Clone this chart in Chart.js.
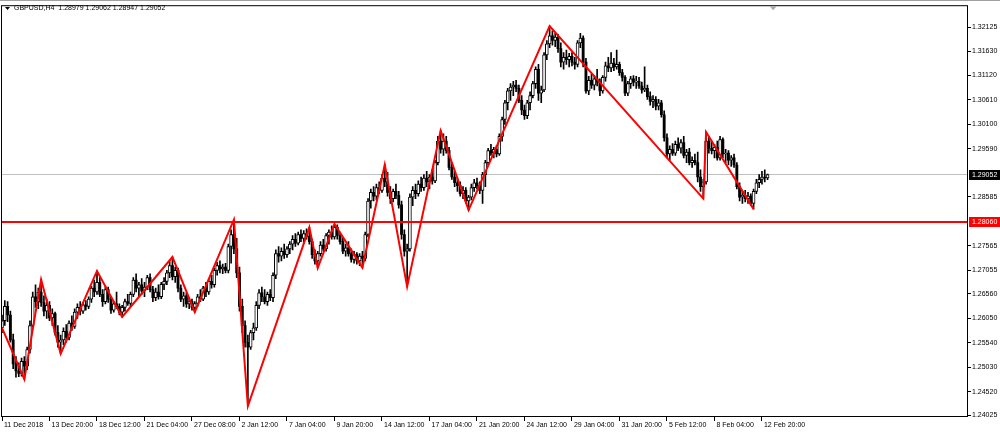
<!DOCTYPE html>
<html><head><meta charset="utf-8">
<script src="https://cdn.jsdelivr.net/npm/chart.js@4"></script>
<style>html,body{margin:0;padding:0;background:#fff;overflow:hidden}#wrap{width:1000px;height:433px;position:relative}</style>
</head><body><div id="wrap"><canvas id="c" width="1000" height="433"></canvas></div>
<script>
const symbolTitle = "GBPUSD,H4  1.28979 1.29062 1.28947 1.29052";
const timeLabelBars = [0,17,34,51,68,85,102,119,136,153,170,187,204,221,238,255,272];
const timeLabels = ["11 Dec 2018","13 Dec 20:00","18 Dec 12:00","21 Dec 04:00","27 Dec 08:00","2 Jan 12:00","7 Jan 04:00","9 Jan 20:00","14 Jan 12:00","17 Jan 04:00","21 Jan 20:00","24 Jan 12:00","29 Jan 04:00","31 Jan 20:00","5 Feb 12:00","8 Feb 04:00","12 Feb 20:00"];
const priceTicks = [1.32125,1.31630,1.31120,1.30610,1.30100,1.29590,1.28585,1.27565,1.27055,1.26560,1.26050,1.25540,1.25030,1.24520,1.24025];
const levelPrice = 1.28060;
const lastPrice = 1.29052;

const openP = [
1.2585,1.2600,1.2630,1.2612,1.2560,1.2510,1.2495,1.2490,1.2515,1.2505,
1.2540,1.2590,1.2650,1.2640,1.2660,1.2638,1.2620,1.2632,1.2606,1.2615,
1.2575,1.2555,1.2560,1.2578,1.2565,1.2595,1.2588,1.2618,1.2628,1.2620,
1.2633,1.2630,1.2645,1.2668,1.2660,1.2680,1.2655,1.2640,1.2665,1.2645,
1.2622,1.2635,1.2630,1.2618,1.2628,1.2640,1.2636,1.2655,1.2685,1.2668,
1.2675,1.2662,1.2670,1.2690,1.2665,1.2648,1.2660,1.2650,1.2676,1.2682,
1.2700,1.2715,1.2692,1.2705,1.2668,1.2645,1.2652,1.2635,1.2640,1.2628,
1.2636,1.2650,1.2645,1.2668,1.2660,1.2682,1.2675,1.2705,1.2715,1.2708,
1.2712,1.2705,1.2755,1.2780,1.2750,1.2700,1.2630,1.2590,1.2555,1.2545,
1.2575,1.2585,1.2632,1.2658,1.2650,1.2640,1.2655,1.2648,1.2695,1.2740,
1.2735,1.2745,1.2738,1.2750,1.2760,1.2770,1.2762,1.2780,1.2772,1.2782,
1.2776,1.2765,1.2738,1.2725,1.2740,1.2758,1.2750,1.2778,1.2785,1.2775,
1.2795,1.2778,1.2765,1.2745,1.2752,1.2740,1.2728,1.2738,1.2725,1.2735,
1.2730,1.2780,1.2850,1.2868,1.2860,1.2878,1.2872,1.2898,1.2890,1.2868,
1.2855,1.2870,1.2862,1.2842,1.2780,1.2745,1.2750,1.2858,1.2872,1.2865,
1.2885,1.2878,1.2898,1.2890,1.2900,1.2892,1.2930,1.2975,1.2958,1.2975,
1.2955,1.2920,1.2900,1.2888,1.2882,1.2865,1.2872,1.2850,1.2858,1.2878,
1.2888,1.2882,1.2872,1.2905,1.2930,1.2955,1.2950,1.2958,1.2948,1.2985,
1.3020,1.3055,1.3080,1.3088,1.3092,1.3085,1.3060,1.3040,1.3028,1.3055,
1.3070,1.3095,1.3125,1.3075,1.3082,1.3155,1.3178,1.3195,1.3185,1.3192,
1.3168,1.3140,1.3150,1.3145,1.3152,1.3140,1.3135,1.3180,1.3190,1.3140,
1.3080,1.3102,1.3092,1.3105,1.3098,1.3080,1.3108,1.3132,1.3128,1.3138,
1.3130,1.3135,1.3118,1.3108,1.3075,1.3095,1.3105,1.3098,1.3100,1.3090,
1.3082,1.3085,1.3068,1.3058,1.3062,1.3048,1.3055,1.3030,1.2982,1.2948,
1.2958,1.2950,1.2968,1.2960,1.2972,1.2945,1.2952,1.2930,1.2935,1.2930,
1.2900,1.2880,1.2890,1.2975,1.2960,1.2955,1.2962,1.2940,1.2978,1.2948,
1.2950,1.2935,1.2940,1.2925,1.2880,1.2858,1.2862,1.2855,1.2860,1.2845,
1.2870,1.2888,1.2895,1.2900,1.28979];

const highP = [
1.2612,1.2642,1.2640,1.2620,1.2572,1.2525,1.2512,1.2522,1.2525,1.2545,
1.2600,1.2660,1.2675,1.2668,1.2686,1.2652,1.2645,1.2640,1.2625,1.2618,
1.2590,1.2570,1.2585,1.2592,1.2600,1.2610,1.2625,1.2635,1.2640,1.2638,
1.2642,1.2650,1.2672,1.2685,1.2704,1.2690,1.2665,1.2672,1.2670,1.2650,
1.2640,1.2660,1.2635,1.2632,1.2645,1.2655,1.2660,1.2690,1.2698,1.2680,
1.2688,1.2680,1.2695,1.2698,1.2672,1.2668,1.2675,1.2680,1.2690,1.2705,
1.2725,1.2733,1.2712,1.2710,1.2675,1.2660,1.2658,1.2648,1.2645,1.2640,
1.2655,1.2665,1.2672,1.2680,1.2688,1.2695,1.2710,1.2722,1.2725,1.2718,
1.2720,1.2760,1.2790,1.2811,1.2772,1.2712,1.2645,1.2600,1.2570,1.2580,
1.2595,1.2640,1.2665,1.2670,1.2665,1.2660,1.2665,1.2700,1.2748,1.2755,
1.2752,1.2760,1.2755,1.2765,1.2778,1.2782,1.2785,1.2790,1.2788,1.2792,
1.2795,1.2770,1.2748,1.2745,1.2765,1.2770,1.2782,1.2790,1.2798,1.2802,
1.2800,1.2785,1.2772,1.2760,1.2765,1.2750,1.2745,1.2742,1.2740,1.2745,
1.2785,1.2855,1.2875,1.2880,1.2885,1.2890,1.2905,1.2926,1.2910,1.2880,
1.2875,1.2885,1.2870,1.2850,1.2790,1.2760,1.2865,1.2880,1.2885,1.2892,
1.2900,1.2905,1.2912,1.2905,1.2915,1.2935,1.2985,1.2997,1.2990,1.2985,
1.2962,1.2930,1.2912,1.2898,1.2890,1.2880,1.2878,1.2862,1.2885,1.2895,
1.2898,1.2890,1.2910,1.2935,1.2960,1.2968,1.2962,1.2965,1.2990,1.3025,
1.3060,1.3085,1.3095,1.3100,1.3102,1.3092,1.3070,1.3050,1.3060,1.3078,
1.3100,1.3130,1.3135,1.3090,1.3160,1.3185,1.3215,1.3205,1.3200,1.3198,
1.3180,1.3160,1.3165,1.3158,1.3160,1.3150,1.3185,1.3200,1.3195,1.3148,
1.3110,1.3115,1.3112,1.3125,1.3105,1.3112,1.3140,1.3150,1.3160,1.3148,
1.3165,1.3140,1.3125,1.3112,1.3100,1.3110,1.3112,1.3110,1.3108,1.3098,
1.3130,1.3092,1.3078,1.3070,1.3068,1.3062,1.3060,1.3038,1.2990,1.2965,
1.2970,1.2975,1.2982,1.2978,1.2985,1.2958,1.2960,1.2942,1.2948,1.2952,
1.2915,1.2895,1.2994,1.2985,1.2975,1.2968,1.2975,1.2985,1.2982,1.2958,
1.2955,1.2945,1.2948,1.2930,1.2888,1.2870,1.2872,1.2868,1.2865,1.2875,
1.2895,1.2905,1.2912,1.2915,1.29062];

const lowP = [
1.2575,1.2590,1.2598,1.2555,1.2500,1.2482,1.2483,1.2484,1.2478,1.2498,
1.2532,1.2585,1.2628,1.2625,1.2630,1.2610,1.2605,1.2600,1.2590,1.2570,
1.2545,1.2531,1.2550,1.2555,1.2560,1.2580,1.2584,1.2605,1.2612,1.2615,
1.2622,1.2625,1.2638,1.2650,1.2655,1.2650,1.2630,1.2635,1.2638,1.2615,
1.2618,1.2625,1.2612,1.2608,1.2620,1.2632,1.2630,1.2650,1.2660,1.2650,
1.2655,1.2650,1.2665,1.2660,1.2640,1.2642,1.2645,1.2646,1.2665,1.2675,
1.2690,1.2685,1.2680,1.2660,1.2640,1.2630,1.2628,1.2625,1.2622,1.2618,
1.2630,1.2640,1.2642,1.2650,1.2655,1.2668,1.2670,1.2695,1.2700,1.2698,
1.2700,1.2700,1.2720,1.2740,1.2690,1.2620,1.2575,1.2545,1.2422,1.2540,
1.2560,1.2580,1.2625,1.2640,1.2635,1.2632,1.2642,1.2640,1.2688,1.2722,
1.2725,1.2730,1.2732,1.2740,1.2748,1.2755,1.2758,1.2765,1.2762,1.2770,
1.2760,1.2730,1.2718,1.2710,1.2735,1.2745,1.2745,1.2760,1.2770,1.2770,
1.2770,1.2760,1.2740,1.2735,1.2735,1.2722,1.2720,1.2718,1.2715,1.2711,
1.2725,1.2775,1.2835,1.2850,1.2852,1.2865,1.2868,1.2880,1.2860,1.2845,
1.2848,1.2855,1.2835,1.2770,1.2735,1.2671,1.2745,1.2840,1.2855,1.2860,
1.2870,1.2872,1.2880,1.2875,1.2885,1.2888,1.2925,1.2950,1.2945,1.2950,
1.2915,1.2895,1.2880,1.2870,1.2860,1.2855,1.2845,1.2831,1.2852,1.2870,
1.2875,1.2865,1.2845,1.2880,1.2925,1.2945,1.2940,1.2942,1.2945,1.2975,
1.3010,1.3040,1.3060,1.3070,1.3078,1.3055,1.3030,1.3020,1.3022,1.3040,
1.3065,1.3085,1.3060,1.3055,1.3078,1.3145,1.3170,1.3175,1.3172,1.3160,
1.3130,1.3125,1.3135,1.3130,1.3132,1.3125,1.3130,1.3170,1.3130,1.3075,
1.3072,1.3085,1.3082,1.3090,1.3070,1.3075,1.3100,1.3120,1.3120,1.3122,
1.3125,1.3112,1.3100,1.3070,1.3070,1.3085,1.3090,1.3085,1.3085,1.3075,
1.3078,1.3062,1.3050,1.3045,1.3040,1.3040,1.3025,1.2975,1.2940,1.2935,
1.2945,1.2945,1.2955,1.2950,1.2940,1.2930,1.2925,1.2920,1.2925,1.2890,
1.2870,1.2855,1.2885,1.2950,1.2948,1.2940,1.2935,1.2935,1.2940,1.2930,
1.2925,1.2922,1.2920,1.2875,1.2850,1.2845,1.2848,1.2845,1.2840,1.2833,
1.2865,1.2878,1.2885,1.2890,1.28947];

const closeP = [
1.2600,1.2630,1.2612,1.2560,1.2510,1.2495,1.2490,1.2515,1.2505,1.2540,
1.2590,1.2650,1.2640,1.2660,1.2638,1.2620,1.2632,1.2606,1.2615,1.2575,
1.2555,1.2560,1.2578,1.2565,1.2595,1.2588,1.2618,1.2628,1.2620,1.2633,
1.2630,1.2645,1.2668,1.2660,1.2680,1.2655,1.2640,1.2665,1.2645,1.2622,
1.2635,1.2630,1.2618,1.2628,1.2640,1.2636,1.2655,1.2685,1.2668,1.2675,
1.2662,1.2670,1.2690,1.2665,1.2648,1.2660,1.2650,1.2676,1.2682,1.2700,
1.2715,1.2692,1.2705,1.2668,1.2645,1.2652,1.2635,1.2640,1.2628,1.2636,
1.2650,1.2645,1.2668,1.2660,1.2682,1.2675,1.2705,1.2715,1.2708,1.2712,
1.2705,1.2755,1.2780,1.2750,1.2700,1.2630,1.2590,1.2555,1.2545,1.2575,
1.2585,1.2632,1.2658,1.2650,1.2640,1.2655,1.2648,1.2695,1.2740,1.2735,
1.2745,1.2738,1.2750,1.2760,1.2770,1.2762,1.2780,1.2772,1.2782,1.2776,
1.2765,1.2738,1.2725,1.2740,1.2758,1.2750,1.2778,1.2785,1.2775,1.2795,
1.2778,1.2765,1.2745,1.2752,1.2740,1.2728,1.2738,1.2725,1.2735,1.2730,
1.2780,1.2850,1.2868,1.2860,1.2878,1.2872,1.2898,1.2890,1.2868,1.2855,
1.2870,1.2862,1.2842,1.2780,1.2745,1.2750,1.2858,1.2872,1.2865,1.2885,
1.2878,1.2898,1.2890,1.2900,1.2892,1.2930,1.2975,1.2958,1.2975,1.2955,
1.2920,1.2900,1.2888,1.2882,1.2865,1.2872,1.2850,1.2858,1.2878,1.2888,
1.2882,1.2872,1.2905,1.2930,1.2955,1.2950,1.2958,1.2948,1.2985,1.3020,
1.3055,1.3080,1.3088,1.3092,1.3085,1.3060,1.3040,1.3028,1.3055,1.3070,
1.3095,1.3125,1.3075,1.3082,1.3155,1.3178,1.3195,1.3185,1.3192,1.3168,
1.3140,1.3150,1.3145,1.3152,1.3140,1.3135,1.3180,1.3190,1.3140,1.3080,
1.3102,1.3092,1.3105,1.3098,1.3080,1.3108,1.3132,1.3128,1.3138,1.3130,
1.3135,1.3118,1.3108,1.3075,1.3095,1.3105,1.3098,1.3100,1.3090,1.3082,
1.3085,1.3068,1.3058,1.3062,1.3048,1.3055,1.3030,1.2982,1.2948,1.2958,
1.2950,1.2968,1.2960,1.2972,1.2945,1.2952,1.2930,1.2935,1.2930,1.2900,
1.2880,1.2890,1.2975,1.2960,1.2955,1.2962,1.2940,1.2978,1.2948,1.2950,
1.2935,1.2940,1.2925,1.2880,1.2858,1.2862,1.2855,1.2860,1.2845,1.2870,
1.2888,1.2895,1.2900,1.2898,1.29052];

const zigzagBars   = [0,8,14,21,34,43,61,69,83,88,110,113,119,129,137,145,157,167,196,251,252,269];
const zigzagPrices = [1.2585,1.2478,1.2686,1.2531,1.2704,1.2608,1.2733,1.2618,1.2811,1.2422,1.2795,1.2710,1.2802,1.2711,1.2926,1.2671,1.2997,1.2831,1.3215,1.2855,1.2994,1.2833];

const FONT = '"Liberation Sans", Arial, sans-serif';
const xMin = -0.358, xMax = 345.74;

const wickData = highP.map((h, i) => ({x: i, y: [lowP[i], h]}));
const bullData = [], bearData = [];
openP.forEach((o, i) => {
  const c = closeP[i];
  if (c >= o) bullData.push({x: i, y: [o, c]}); else bearData.push({x: i, y: [o, c]});
});
const zigzagData = zigzagBars.map((b, k) => ({x: b, y: zigzagPrices[k]}));

const overlay = {
  id: 'mt4overlay',
  afterDatasetsDraw(chart) {
    const {ctx, chartArea: a} = chart;
    ctx.save();
    ctx.strokeStyle = '#000';
    ctx.lineWidth = 1;
    ctx.strokeRect(a.left + 0.5, a.top + 0.5, a.right - a.left - 1, a.bottom - a.top - 1);
    ctx.restore();
  },
  afterDraw(chart) {
    const {ctx, chartArea: a, scales} = chart;
    ctx.save();
    ctx.fillStyle = '#a0a0a0';
    ctx.fillRect(0, 0, 1000, 1);
    ctx.fillStyle = '#000';
    ctx.beginPath();
    ctx.moveTo(5, 7); ctx.lineTo(10, 7); ctx.lineTo(7.5, 10); ctx.closePath(); ctx.fill();
    ctx.font = '7px ' + FONT;
    ctx.textBaseline = 'middle';
    ctx.textAlign = 'left';
    ctx.fillText(symbolTitle, 14, 8.5);
    const mx = scales.x.getPixelForValue(276);
    ctx.fillStyle = '#a8a8a8';
    ctx.beginPath();
    ctx.moveTo(mx - 3.5, a.top + 1); ctx.lineTo(mx + 3.5, a.top + 1); ctx.lineTo(mx, a.top + 5); ctx.closePath(); ctx.fill();
    const boxes = [[lastPrice, '#000000'], [levelPrice, '#ff0000']];
    boxes.forEach(([p, bg]) => {
      const y = Math.round(scales.y.getPixelForValue(p));
      ctx.fillStyle = bg;
      ctx.fillRect(a.right + 1, y - 5, 1000 - a.right - 1, 10);
      ctx.fillStyle = '#ffffff';
      ctx.fillText(p.toFixed(5), a.right + 4, y + 0.5);
    });
    ctx.restore();
  }
};

new Chart(document.getElementById('c'), {
  type: 'bar',
  data: {
    datasets: [
      {type: 'line', label: 'ZigZag', data: zigzagData, borderColor: '#ff0000', borderWidth: 2, pointRadius: 0, tension: 0, order: 0},
      {type: 'line', label: 'Level', data: [{x: xMin, y: levelPrice}, {x: xMax, y: levelPrice}], borderColor: '#ff0000', borderWidth: 2, pointRadius: 0, order: 1},
      {type: 'bar', label: 'Bull', data: bullData, backgroundColor: '#ffffff', borderColor: '#000000', borderWidth: 1, borderSkipped: false, barThickness: 3, minBarLength: 1, grouped: false, order: 2},
      {type: 'bar', label: 'Bear', data: bearData, backgroundColor: '#000000', borderWidth: 0, barThickness: 2.2, minBarLength: 1, grouped: false, order: 2},
      {type: 'bar', label: 'Wick', data: wickData, backgroundColor: '#000000', borderWidth: 0, barThickness: 1, grouped: false, order: 3},
      {type: 'line', label: 'Bid', data: [{x: xMin, y: lastPrice}, {x: xMax, y: lastPrice}], borderColor: '#c0c0c0', borderWidth: 1, pointRadius: 0, order: 4}
    ]
  },
  options: {
    responsive: false,
    animation: false,
    devicePixelRatio: 1,
    layout: {padding: {left: 1, top: 2, right: 0, bottom: 0}},
    plugins: {legend: {display: false}, tooltip: {enabled: false}, title: {display: false}},
    scales: {
      x: {
        type: 'linear', min: xMin, max: xMax, offset: false, position: 'bottom',
        grid: {display: true, offset: false, drawOnChartArea: false, drawTicks: true, tickLength: 4, tickColor: '#000', color: '#000'},
        border: {display: false},
        ticks: {
          autoSkip: false, maxRotation: 0, minRotation: 0, align: 'start', labelOffset: 2, padding: 0,
          color: '#000', font: {family: FONT, size: 7},
          callback: (v) => { const k = timeLabelBars.indexOf(v); return k >= 0 ? timeLabels[k] : ''; }
        },
        afterBuildTicks: (s) => { s.ticks = timeLabelBars.map(v => ({value: v})); },
        afterFit: (s) => { s.height = 16; }
      },
      y: {
        type: 'linear', position: 'right', min: 1.2399, max: 1.32587,
        grid: {display: true, drawOnChartArea: false, drawTicks: true, tickLength: 3, tickColor: '#000', color: '#000'},
        border: {display: false},
        ticks: {color: '#000', font: {family: FONT, size: 7}, padding: 1, callback: (v) => Number(v).toFixed(5)},
        afterBuildTicks: (s) => { s.ticks = priceTicks.map(v => ({value: v})); },
        afterFit: (s) => { s.width = 32; }
      }
    }
  },
  plugins: [overlay]
});
</script>
</body></html>
